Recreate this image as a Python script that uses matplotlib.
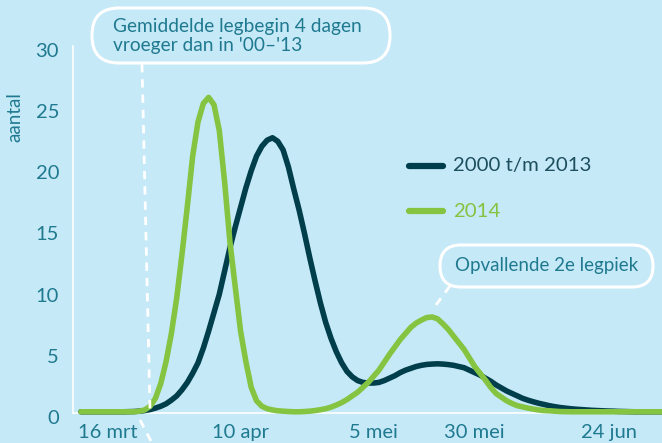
import matplotlib
matplotlib.use('Agg')
import matplotlib.pyplot as plt
from matplotlib.patches import FancyBboxPatch
from matplotlib.transforms import ScaledTranslation

# ---- data -------------------------------------------------------------
days = list(range(-5, 106))   # days since 16 March
avg_2000_2013 = [0.1, 0.1, 0.1, 0.1, 0.1, 0.1, 0.1, 0.1, 0.1, 0.11,
                 0.12, 0.15, 0.2, 0.28, 0.4, 0.55, 0.75, 1.05, 1.4, 1.9,
                 2.5, 3.25, 4.1, 5.3, 6.7, 8.2, 9.7, 11.6, 13.5, 15.2,
                 16.8, 18.4, 19.8, 21.0, 21.8, 22.3, 22.5, 22.2, 21.5, 20.1,
                 18.3, 16.6, 14.7, 12.7, 10.8, 9.0, 7.4, 6.1, 5.0, 4.1,
                 3.4, 2.95, 2.65, 2.5, 2.45, 2.45, 2.5, 2.65, 2.85, 3.05,
                 3.3, 3.5, 3.65, 3.8, 3.9, 3.97, 4.0, 4.02, 4.0, 3.96,
                 3.9, 3.8, 3.7, 3.5, 3.3, 3.1, 2.85, 2.6, 2.3, 2.05,
                 1.8, 1.6, 1.4, 1.2, 1.05, 0.92, 0.8, 0.7, 0.6, 0.52,
                 0.45, 0.4, 0.35, 0.31, 0.28, 0.25, 0.22, 0.2, 0.18, 0.16,
                 0.15, 0.13, 0.12, 0.11, 0.1, 0.1, 0.1, 0.1, 0.1, 0.1,
                 0.1]
y2014 = [0.1, 0.1, 0.1, 0.1, 0.1, 0.1, 0.1, 0.1, 0.1, 0.1,
         0.1, 0.15, 0.25, 0.55, 1.2, 2.4, 4.2, 6.5, 9.4, 13.0,
         16.9, 21.0, 23.8, 25.3, 25.8, 25.2, 23.1, 18.9, 14.0, 10.3,
         6.7, 4.2, 2.1, 1.0, 0.55, 0.35, 0.25, 0.18, 0.15, 0.12,
         0.1, 0.1, 0.12, 0.15, 0.2, 0.27, 0.35, 0.48, 0.65, 0.85,
         1.1, 1.4, 1.7, 2.1, 2.5, 3.0, 3.5, 4.15, 4.8, 5.4,
         6.0, 6.5, 7.0, 7.35, 7.6, 7.8, 7.85, 7.7, 7.3, 6.85,
         6.3, 5.75, 5.2, 4.5, 3.8, 3.25, 2.7, 2.1, 1.6, 1.3,
         1.0, 0.78, 0.6, 0.5, 0.4, 0.32, 0.25, 0.2, 0.18, 0.15,
         0.12, 0.11, 0.1, 0.1, 0.1, 0.1, 0.1, 0.1, 0.1, 0.1,
         0.1, 0.1, 0.1, 0.1, 0.1, 0.1, 0.1, 0.1, 0.1, 0.1,
         0.1]
x_tick_pos = [0, 25, 50, 68.9, 94.3]
x_tick_labels = ['16 mrt', '10 apr', '5 mei', '30 mei', '24 jun']
y_ticks = [0, 5, 10, 15, 20, 25, 30]
series_labels = ['2000 t/m 2013', '2014']

# ---- style -------------------------------------------------------------
BG = '#c6e9f8'
DARK = '#003e4b'
GREEN = '#84c441'
TEXT = '#1f7a8f'
plt.rcParams['font.family'] = ['Lato', 'DejaVu Sans']

W, H = 662, 443
fig = plt.figure(figsize=(W / 100, H / 100), dpi=100, facecolor=BG)

ax = fig.add_axes([73 / W, (H - 413) / H, 1 - 73 / W, (413 - 46) / H])
ax.set_facecolor(BG)
ax.plot(days, avg_2000_2013, color=DARK, lw=4, solid_capstyle='round',
        solid_joinstyle='round', clip_on=False, zorder=3)
ax.plot(days, y2014, color=GREEN, lw=4, solid_capstyle='round',
        solid_joinstyle='round', clip_on=False, zorder=4)
ax.set_xlim(-6.49, 104.2)
ax.set_ylim(0, 30)
ax.set_yticks(y_ticks)
ax.set_xticks(x_tick_pos)
ax.set_xticklabels(x_tick_labels)
ax.tick_params(length=0, labelsize=14.5, labelcolor=TEXT)
ax.tick_params(axis='y', pad=10)
ax.tick_params(axis='x', pad=8)
shift = ScaledTranslation(0, -4 / 100, fig.dpi_scale_trans)
for lab in ax.get_yticklabels():
    lab.set_transform(lab.get_transform() + shift)
for s in ['top', 'right']:
    ax.spines[s].set_visible(False)
for s in ['left', 'bottom']:
    ax.spines[s].set_color('white')
    ax.spines[s].set_linewidth(1.2)

# ---- overlay for annotations (pixel coordinates) ----------------------
ov = fig.add_axes([0, 0, 1, 1], facecolor='none')
ov.set_xlim(0, W)
ov.set_ylim(H, 0)
ov.axis('off')

ov.text(15, 117, 'aantal', color=TEXT, fontsize=13.5, rotation=90,
        ha='center', va='center')

box1 = FancyBboxPatch((92, 8), 298, 55, boxstyle='round,pad=0,rounding_size=27',
                      fc='none', ec='white', lw=2.2)
ov.add_patch(box1)
ov.text(113, 36, "Gemiddelde legbegin 4 dagen\nvroeger dan in '00\u2013'13",
        color=TEXT, fontsize=13.8, ha='left', va='center', linespacing=1.15)
ov.plot([142, 150], [64, 410], color='white', lw=2, ls=(0, (3, 2.5)))
ov.plot([140, 152], [420, 443], color='white', lw=2, ls=(0, (3, 2.5)))

box2 = FancyBboxPatch((440, 245), 213, 42, boxstyle='round,pad=0,rounding_size=21',
                      fc='none', ec='white', lw=2.2)
ov.add_patch(box2)
ov.text(547, 265, 'Opvallende 2e legpiek', color=TEXT, fontsize=13.5,
        ha='center', va='center')
ov.plot([450, 433], [286, 309], color='white', lw=2, ls=(0, (3, 2.5)))

# legend
ov.plot([409, 443], [166, 166], color=DARK, lw=4.5, solid_capstyle='round')
ov.text(453, 166, series_labels[0], color='#1d4f5e', fontsize=14.7,
        ha='left', va='center')
ov.plot([409, 443], [211, 211], color=GREEN, lw=4.5, solid_capstyle='round')
ov.text(453, 211, series_labels[1], color=GREEN, fontsize=14.7,
        ha='left', va='center')

fig.savefig('out.png', dpi=100, facecolor=BG)
